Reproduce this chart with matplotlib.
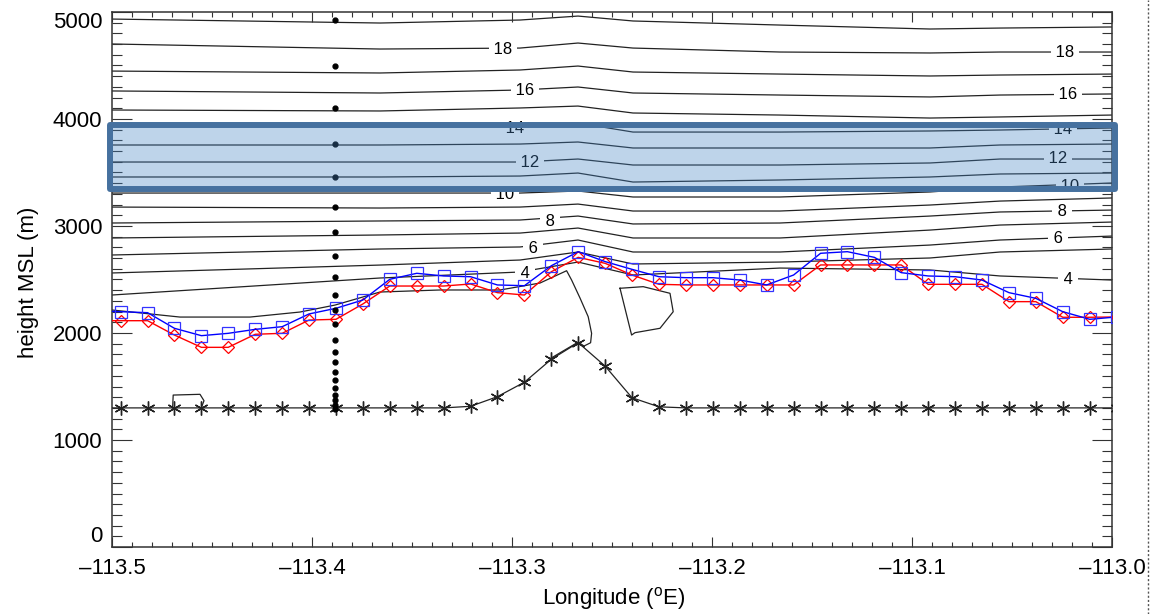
import matplotlib
matplotlib.use('Agg')
import matplotlib.pyplot as plt
from matplotlib.patches import Rectangle
from matplotlib.lines import Line2D
from matplotlib.ticker import MultipleLocator

plt.rcParams['font.family'] = ['Liberation Sans', 'DejaVu Sans']
plt.rcParams['mathtext.fontset'] = 'custom'
plt.rcParams['mathtext.rm'] = 'Liberation Sans'

# model columns along the cross section (longitude, deg E)
lon = [-113.5092, -113.4957, -113.4822, -113.4688, -113.4553, -113.4419, -113.4284,
       -113.4149, -113.4015, -113.3880, -113.3746, -113.3611, -113.3476, -113.3342,
       -113.3207, -113.3073, -113.2938, -113.2803, -113.2669, -113.2534, -113.2400,
       -113.2265, -113.2130, -113.1996, -113.1861, -113.1727, -113.1592, -113.1457,
       -113.1323, -113.1188, -113.1054, -113.0919, -113.0784, -113.0650, -113.0515,
       -113.0381, -113.0246, -113.0111, -112.9977]

terrain = [1300, 1300, 1300, 1300, 1300, 1300, 1300, 1300, 1300, 1300, 1300, 1300, 1300, 1300,
           1315, 1405, 1540, 1755, 1910, 1690, 1395, 1310, 1300, 1300, 1300, 1300, 1300, 1300,
           1300, 1300, 1300, 1300, 1300, 1300, 1300, 1300, 1300, 1300, 1300]

pbl_red = [2115, 2115, 2115, 1981, 1866, 1866, 1988, 1997, 2121, 2128, 2271, 2439, 2439, 2439,
           2458, 2377, 2355, 2573, 2707, 2651, 2542, 2455, 2449, 2449, 2449, 2449, 2449, 2636,
           2636, 2636, 2636, 2455, 2455, 2455, 2293, 2293, 2147, 2147, 2150]

pbl_blue = [2210, 2199, 2190, 2044, 1975, 1997, 2034, 2059, 2178, 2231, 2308, 2502, 2558, 2533,
            2526, 2449, 2442, 2629, 2760, 2667, 2595, 2526, 2517, 2517, 2495, 2449, 2542, 2745,
            2760, 2707, 2564, 2533, 2526, 2495, 2377, 2324, 2199, 2128, 2150]

# vertical levels of the profile column
col_lon = -113.3885
col_hgt = [4925, 4495, 4106, 3764, 3455, 3180, 2941, 2722, 2526, 2355, 2215, 2080, 1935,
           1825, 1732, 1638, 1561, 1483, 1421, 1374, 1327, 1290]

# contour lines (height of each level at node longitudes)
node_lon = [-113.5, -113.366, -113.296, -113.267, -113.2395, -113.166, -113.091, -113.056, -113.0]
levels = [19, 18, 17, 16, 15, 14, 13, 12, 11, 10, 9, 8, 7, 6, 5, 4]
level_hgt = [
    [4934, 4897, 4925, 4962, 4916, 4878, 4841, 4850, 4860],
    [4701, 4654, 4663, 4710, 4663, 4626, 4617, 4626, 4626],
    [4448, 4430, 4458, 4495, 4439, 4420, 4402, 4411, 4420],
    [4262, 4243, 4271, 4299, 4243, 4224, 4206, 4224, 4234],
    [4084, 4075, 4103, 4121, 4056, 4037, 4009, 4019, 4037],
    [3934, 3934, 3944, 3962, 3878, 3878, 3888, 3897, 3916],
    [3757, 3757, 3766, 3785, 3729, 3729, 3729, 3757, 3766],
    [3598, 3598, 3598, 3626, 3570, 3570, 3589, 3626, 3626],
    [3458, 3458, 3467, 3495, 3411, 3430, 3458, 3486, 3495],
    [3308, 3308, 3308, 3327, 3271, 3271, 3318, 3364, 3402],
    [3177, 3168, 3177, 3205, 3140, 3140, 3196, 3233, 3262],
    [3028, 3047, 3056, 3093, 3019, 3028, 3093, 3131, 3149],
    [2888, 2916, 2934, 2981, 2888, 2888, 2962, 3009, 3037],
    [2729, 2785, 2804, 2869, 2757, 2757, 2822, 2869, 2906],
    [2561, 2635, 2682, 2757, 2645, 2663, 2701, 2757, 2785],
    [2355, 2514, 2570, 2663, 2542, 2607, 2589, 2533, 2495],
]

# lowest contour pieces near the ground
c3_lon = [-113.5, -113.466, -113.431, -113.406, -113.3885, -113.366, -113.336, -113.306,
          -113.286, -113.2727, -113.2702, -113.266, -113.2619, -113.2602, -113.2607,
          -113.264, -113.2669, -113.2805]
c3_hgt = [2215, 2149, 2149, 2196, 2261, 2383, 2402, 2402, 2467, 2582, 2495, 2327, 2152,
          1997, 1909, 1878, 1915, 1765]
blob_lon = [-113.246, -113.2402, -113.2385, -113.226, -113.2194, -113.221, -113.2344, -113.246]
blob_hgt = [2418, 1981, 2003, 2044, 2199, 2371, 2433, 2418]
small_lon = [-113.4697, -113.4694, -113.456, -113.454, -113.4552]
small_hgt = [1299, 1420, 1427, 1367, 1308]

# contour labels
lab_val = [18, 18, 16, 16, 14, 14, 12, 12, 10, 10, 8, 8, 6, 6, 4, 4]
lab_lon = [-113.3045, -113.0235, -113.2935, -113.022, -113.2985, -113.0245, -113.291, -113.027,
           -113.3035, -113.021, -113.281, -113.025, -113.2895, -113.027, -113.2935, -113.022]
lab_hgt = [4663, 4635, 4280, 4243, 3925, 3916, 3607, 3645, 3308, 3383, 3056, 3149, 2804,
           2897, 2570, 2514]

# highlighted layer
box_x = (-113.501, -112.9985)
box_y = (3349, 3947)

fig = plt.figure(figsize=(11.51, 6.14), dpi=100)
ax = fig.add_axes([112 / 1151, 67 / 614, 1000 / 1151, 535 / 614])

for hs in level_hgt:
    ax.plot(node_lon, hs, color='#222222', lw=0.9, zorder=1)
ax.plot(c3_lon, c3_hgt, color='#222222', lw=0.9, zorder=1)
ax.plot(blob_lon, blob_hgt, color='#222222', lw=0.9, zorder=1)
ax.plot(small_lon, small_hgt, color='#222222', lw=0.9, zorder=1)

for v, x, y in zip(lab_val, lab_lon, lab_hgt):
    ax.text(x, y, ' %d ' % v, fontsize=12, ha='center', va='center_baseline',
            bbox=dict(fc='white', ec='none', pad=0.3), zorder=2)

ax.plot(lon, terrain, color='#222222', lw=0.9, marker=(6, 2, 0), ms=10, mew=1.0,
        mec='#222222', zorder=3)
ax.plot(lon, pbl_red, color='red', lw=1.0, marker='D', ms=6, mfc='none', mec='red',
        mew=0.9, zorder=4)
ax.plot(lon, pbl_blue, color='blue', lw=1.0, marker='s', ms=8.5, mfc='none', mec='#3333ff',
        mew=0.9, zorder=4)
ax.plot([col_lon] * len(col_hgt), col_hgt, ls='none', marker='o', ms=3.5, color='black',
        zorder=5)

ax.add_patch(Rectangle((box_x[0], box_y[0]), box_x[1] - box_x[0], box_y[1] - box_y[0],
                       facecolor=(0.27, 0.52, 0.77, 0.35), edgecolor='#46719f', lw=4.3,
                       joinstyle='round', clip_on=False, zorder=6))

ax.set_xlim(-113.5, -113.0)
ax.set_ylim(0, 5000)
ax.set_xticks([-113.5, -113.4, -113.3, -113.2, -113.1, -113.0])
ax.set_xticklabels(['\u2013113.5', '\u2013113.4', '\u2013113.3', '\u2013113.2',
                    '\u2013113.1', '\u2013113.0'])
ax.xaxis.set_minor_locator(MultipleLocator(0.01))
ax.set_yticks([0, 1000, 2000, 3000, 4000, 5000])
ax.yaxis.set_minor_locator(MultipleLocator(100))
ax.tick_params(which='both', direction='in', top=True, right=True, width=0.8,
               color='#333333', labelsize=16)
ax.tick_params(axis='x', which='major', length=7.2, pad=8)
ax.tick_params(axis='x', which='minor', length=3.6)
ax.tick_params(axis='y', which='major', length=14.4, pad=7)
ax.tick_params(axis='y', which='minor', length=7.2)
for s in ax.spines.values():
    s.set_linewidth(1.1)
    s.set_color('#333333')

# end labels of the height axis sit slightly inside, as in the original
ylabs = ax.get_yticklabels()
ylabs[0].set_va('bottom')
ylabs[-1].set_va('top')

fig.text(614 / 1151, 1 - 598 / 614, 'Longitude ($^{\\rm o}$E)', fontsize=16,
         ha='center', va='center')
fig.text(29 / 1151, 1 - 282 / 614, 'height MSL (m)', fontsize=16, rotation=90,
         ha='center', va='center')

fig.add_artist(Line2D([1148 / 1151] * 2, [0, 1], transform=fig.transFigure,
                      color='#555555', lw=1, ls=(0, (1.5, 1.5))))

fig.savefig('out.png', dpi=100)
